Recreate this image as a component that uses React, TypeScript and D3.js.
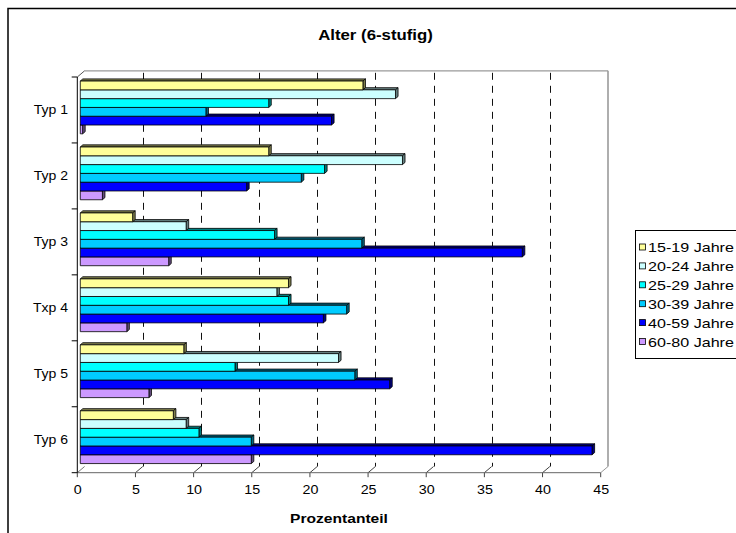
import React from "react";
import * as d3 from "d3";

const categories = ["Typ 1", "Typ 2", "Typ 3", "Txp 4", "Typ 5", "Typ 6"];
const seriesNames = ["15-19 Jahre", "20-24 Jahre", "25-29 Jahre", "30-39 Jahre", "40-59 Jahre", "60-80 Jahre"];
const v1519 = [24.3, 16.2, 4.5, 17.9, 8.9, 8.0];
const v2024 = [27.1, 27.7, 9.1, 16.9, 22.2, 9.1];
const v2529 = [16.2, 21.0, 16.7, 17.9, 13.3, 10.2];
const v3039 = [10.8, 19.0, 24.2, 22.9, 23.6, 14.7];
const v4059 = [21.6, 14.3, 38.0, 20.9, 26.6, 44.0];
const v6080 = [0.2, 1.9, 7.6, 4.0, 5.9, 14.7];
const seriesValues = [v1519, v2024, v2529, v3039, v4059, v6080];
const seriesColors = ["#FFFF99", "#CCFFFF", "#00FFFF", "#00CCFF", "#0000FF", "#CC99FF"];
const tickValues = [0, 5, 10, 15, 20, 25, 30, 35, 40, 45];
const title = "Alter (6-stufig)";
const xTitle = "Prozentanteil";

const FONT = "'Liberation Sans', Arial, sans-serif";

function SText(props: any) {
  const { x, y, sx, anchor, size, bold, children } = props;
  return (
    <text
      transform={`translate(${x},${y}) scale(${sx},1)`}
      textAnchor={anchor || "start"}
      fontSize={size}
      fontWeight={bold ? "bold" : "normal"}
      fontFamily={FONT}
      fill="#000"
    >
      {children}
    </text>
  );
}

function shade(c: string, k: number) {
  const col = d3.rgb(c);
  return d3.rgb(col.r * k, col.g * k, col.b * k).formatHex();
}

export default function App() {
  const x = d3.scaleLinear().domain([0, 45]).range([77.3, 600.7]);
  const DX = 7.3;
  const DY = -6.2;
  const yTop = 77;
  const yBot = 472.7;
  const y = d3.scaleBand().domain(categories).range([yTop, yBot]).paddingInner(0.2).paddingOuter(0.1);
  const ys = d3.scaleBand().domain(seriesNames).range([0, y.bandwidth()]);
  const fz = 0.41; // bar front plane depth fraction
  const bz = 0.35; // bar depth fraction
  const ox = DX * fz, oy = DY * fz;
  const ddx = DX * bz, ddy = DY * bz;

  const bars: any[] = [];
  categories.forEach((cat, ci) => {
    for (let si = seriesNames.length - 1; si >= 0; si--) {
      const v = seriesValues[si][ci];
      const x0 = x(0) + ox;
      const x1 = x(v) + ox;
      const yt = (y(cat) as number) + (ys(seriesNames[si]) as number) + oy;
      const yb = yt + ys.bandwidth();
      const c = seriesColors[si];
      const dark = shade(c, 0.5);
      bars.push(
        <g key={`${ci}-${si}`} stroke="#000" strokeWidth={0.8} strokeLinejoin="round">
          <polygon
            points={`${x0},${yt} ${x1},${yt} ${x1 + ddx},${yt + ddy} ${x0 + ddx},${yt + ddy}`}
            fill={dark}
          />
          <polygon
            points={`${x1},${yt} ${x1 + ddx},${yt + ddy} ${x1 + ddx},${yb + ddy} ${x1},${yb}`}
            fill={dark}
          />
          <rect x={x0} y={yt} width={Math.max(0, x1 - x0)} height={yb - yt} fill={c} />
        </g>
      );
    }
  });

  const backTop = yTop + DY;
  const backBot = yBot + DY;
  const catTicks = [...categories.map((c) => (y(c) as number) - y.step() * y.paddingInner() / 2), yBot];
  catTicks[0] = yTop;

  return (
    <svg width={736} height={533} style={{ position: "absolute", left: 0, top: 0, background: "#fff" }}>
      <rect x={0} y={0} width={736} height={533} fill="#fff" />
      <rect x={8} y={8.5} width={800} height={600} fill="none" stroke="#000" strokeWidth={1.5} />

      <SText x={375.5} y={40} sx={1.2} anchor="middle" size={14} bold>{title}</SText>

      {/* back wall edges */}
      <line x1={x(0) + DX} y1={backTop} x2={x(45) + DX} y2={backTop} stroke="#9a9a9a" strokeWidth={1.2} />
      <line x1={x(45) + DX} y1={backTop} x2={x(45) + DX} y2={backBot} stroke="#9a9a9a" strokeWidth={1.6} />
      <line x1={x(0)} y1={yTop} x2={x(0) + DX} y2={backTop} stroke="#555" strokeWidth={1} />
      <line x1={x(0)} y1={yBot} x2={x(0) + DX} y2={backBot} stroke="#777" strokeWidth={1} />
      <line x1={x(45)} y1={yBot} x2={x(45) + DX} y2={backBot} stroke="#999" strokeWidth={1} />

      {/* gridlines */}
      {tickValues.slice(1, -1).map((t) => (
        <line key={`g${t}`} x1={Math.round(x(t) + DX) + 0.5} y1={backTop + 2} x2={Math.round(x(t) + DX) + 0.5} y2={backBot}
          stroke="#111" strokeWidth={1} strokeDasharray="7 6" />
      ))}

      {/* floor ticks */}
      {tickValues.map((t) => (
        <g key={`t${t}`} stroke="#444" strokeWidth={1}>
          {t > 0 && t < 45 && <line x1={x(t) + DX} y1={backBot} x2={x(t)} y2={yBot} />}
          <line x1={x(t)} y1={yBot} x2={x(t)} y2={yBot + 4.5} />
        </g>
      ))}
      <line x1={x(0)} y1={yBot} x2={x(45)} y2={yBot} stroke="#666" strokeWidth={1} />

      {bars}

      {/* category axis */}
      <line x1={x(0)} y1={yTop} x2={x(0)} y2={yBot} stroke="#000" strokeWidth={1} />
      {catTicks.map((t, i) => (
        <line key={`ct${i}`} x1={x(0) - 5.6} y1={t} x2={x(0)} y2={t} stroke="#000" strokeWidth={1} />
      ))}
      {categories.map((c) => (
        <SText key={`cl${c}`} x={68} y={(y(c) as number) + y.bandwidth() / 2 + 4.5} sx={1.08} anchor="end" size={13}>{c}</SText>
      ))}

      {tickValues.map((t) => (
        <SText key={`tl${t}`} x={x(t) + 0.5} y={494} sx={1.1} anchor="middle" size={13}>{String(t)}</SText>
      ))}
      <SText x={339} y={523} sx={1.2} anchor="middle" size={13} bold>{xTitle}</SText>

      {/* legend */}
      <rect x={635.5} y={230.5} width={120} height={128} fill="#fff" stroke="#000" strokeWidth={1} />
      {seriesNames.map((s, i) => {
        const cy = 247.5 + i * 18.9;
        return (
          <g key={`lg${s}`}>
            <rect x={639.5} y={cy - 3.5} width={6} height={6} fill={seriesColors[i]} stroke="#000" strokeWidth={0.8} />
            <SText x={648} y={cy + 4.5} sx={1.24} size={13}>{s}</SText>
          </g>
        );
      })}
    </svg>
  );
}
